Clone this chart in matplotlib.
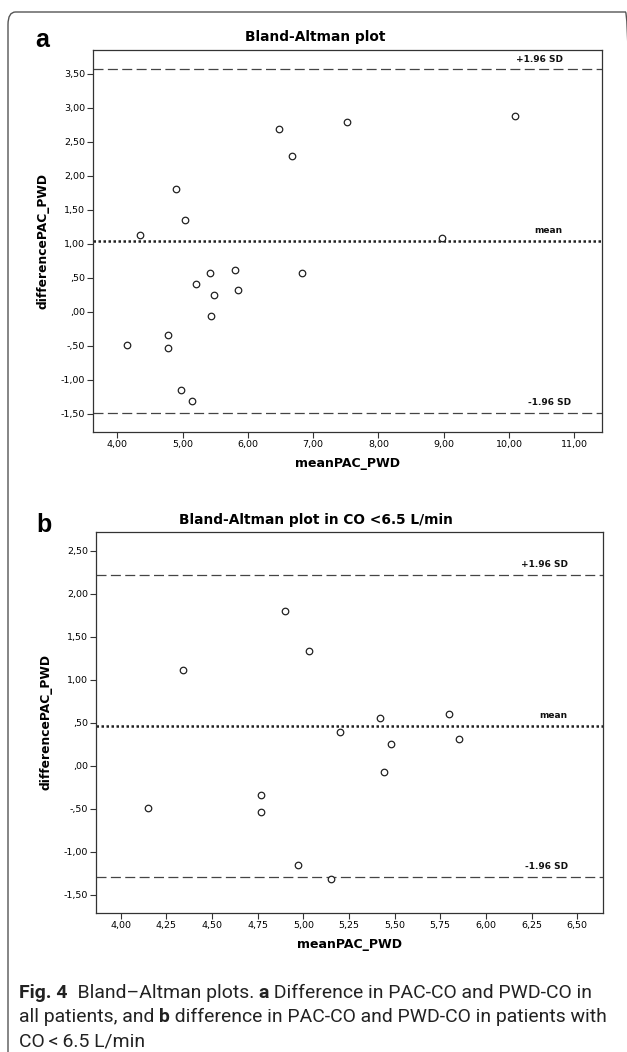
import matplotlib
matplotlib.use("Agg")
import matplotlib.pyplot as plt
from matplotlib.ticker import FuncFormatter, MultipleLocator
from matplotlib.patches import FancyBboxPatch
from matplotlib import font_manager
import numpy as np

# ---------------- data ----------------
mean_pac_pwd = [4.15, 4.34, 4.77, 4.77, 4.90, 4.97, 5.03, 5.15, 5.20, 5.42,
                5.44, 5.48, 5.80, 5.85, 6.47, 6.67, 6.83, 7.52, 8.97, 10.09]
diff_pac_pwd = [-0.49, 1.12, -0.34, -0.54, 1.80, -1.15, 1.34, -1.31, 0.40, 0.56,
                -0.07, 0.25, 0.61, 0.31, 2.69, 2.28, 0.57, 2.79, 1.08, 2.87]
# patient has CO < 6.5 L/min (shown in panel b)
co_below_6_5 = [True] * 14 + [False] * 6
# reference lines: [+1.96 SD, mean, -1.96 SD]
lines_a = [3.56, 1.04, -1.49]
lines_b = [2.22, 0.465, -1.29]
line_labels = ["+1.96 SD", "mean", "-1.96 SD"]

title_a = "Bland-Altman plot"
title_b = "Bland-Altman plot in CO <6.5 L/min"
xlabel = "meanPAC_PWD"
ylabel = "differencePAC_PWD"

W, H = 627, 1052
fig = plt.figure(figsize=(W / 100, H / 100), dpi=100)


def fx(x):
    return x / W


def fy(y):
    return 1 - y / H


def comma_fmt(v, pos=None):
    s = "%.2f" % v
    if s.startswith("0."):
        s = s[1:]
    elif s.startswith("-0."):
        s = "-" + s[2:]
    return s.replace(".", ",")


CHART_FONT = "DejaVu Sans"
EDGE = "#333333"


def make_axes(l, r, t, b):
    ax = fig.add_axes([fx(l), fy(b), fx(r) - fx(l), (b - t) / H])
    for s in ax.spines.values():
        s.set_color(EDGE)
        s.set_linewidth(0.9)
    ax.tick_params(axis="both", direction="out", length=4, width=0.8,
                   color=EDGE, labelsize=6.8, pad=1.5, top=False, right=False)
    ax.xaxis.set_major_formatter(FuncFormatter(comma_fmt))
    ax.yaxis.set_major_formatter(FuncFormatter(comma_fmt))
    for lab in ax.get_xticklabels() + ax.get_yticklabels():
        lab.set_family(CHART_FONT)
    return ax


def draw_panel(ax, xs, ys, lines, lab_x, xlim, ylim, xstep, ystep):
    ax.scatter(xs, ys, s=22, facecolors="white", edgecolors="#222222",
               linewidths=0.9, zorder=3)
    styles = [(0, (8, 3.5)), (0, (1, 1)), (0, (8, 3.5))]
    widths = [0.9, 1.8, 0.9]
    for val, ls, lw, lab, lx in zip(lines, styles, widths, line_labels, lab_x):
        ax.axhline(val, color="#222222" if lw > 1 else "#444444",
                   linestyle=ls, linewidth=lw, zorder=2)
        ax.annotate(lab, xy=(lx, val), xycoords=("axes fraction", "data"),
                    xytext=(0, 7.3), textcoords="offset points",
                    ha="right", va="center", fontsize=6.5,
                    fontweight="bold", family=CHART_FONT, color="#111111")
    ax.set_xlim(*xlim)
    ax.set_ylim(*ylim)
    ax.xaxis.set_major_locator(MultipleLocator(xstep))
    ax.yaxis.set_major_locator(MultipleLocator(ystep))
    ax.set_xlabel(xlabel, fontsize=9, fontweight="bold", family=CHART_FONT,
                  labelpad=6)
    ax.set_ylabel(ylabel, fontsize=8.8, fontweight="bold", family=CHART_FONT,
                  labelpad=8)


# ---- panel a
ax_a = make_axes(92.7, 601.7, 50, 432.3)
draw_panel(ax_a, mean_pac_pwd, diff_pac_pwd, lines_a, [0.924, 0.922, 0.94],
           (3.623, 11.42), (-1.776, 3.846), 1.0, 0.5)

# ---- panel b (patients with CO < 6.5 L/min)
xs_b = [m for m, k in zip(mean_pac_pwd, co_below_6_5) if k]
ys_b = [d for d, k in zip(diff_pac_pwd, co_below_6_5) if k]
ax_b = make_axes(95.7, 603.3, 531.7, 913.3)
draw_panel(ax_b, xs_b, ys_b, lines_b, [0.93, 0.929, 0.93],
           (3.863, 6.643), (-1.713, 2.724), 0.25, 0.5)

# titles & panel letters
fig.text(fx(315), fy(37.5), title_a, ha="center", va="center", fontsize=9.9,
         fontweight="bold", family=CHART_FONT)
fig.text(fx(316), fy(520), title_b, ha="center", va="center", fontsize=9.9,
         fontweight="bold", family=CHART_FONT)
LETTER_FONT = "Liberation Sans"
fig.text(fx(35), fy(47), "a", ha="left", va="baseline", fontsize=18,
         fontweight="bold", family=LETTER_FONT)
fig.text(fx(36), fy(532), "b", ha="left", va="baseline", fontsize=18,
         fontweight="bold", family=LETTER_FONT)

# border (rounded, open at right/bottom by clipping)
box = FancyBboxPatch((fx(8), fy(1075)), fx(633) - fx(8), (1075 - 12) / H,
                     boxstyle="round,pad=0,rounding_size=0.012",
                     transform=fig.transFigure, fill=False,
                     edgecolor="#555555", linewidth=1.0)
fig.patches.append(box)

# caption
names = {f.name for f in font_manager.fontManager.ttflist}
CAP_FONT = "Liberation Sans Narrow" if "Liberation Sans Narrow" in names else "Roboto"
caption_lines = [
    [("Fig. 4", "bold"), ("  Bland\u2013Altman plots. ", "normal"), ("a", "bold"),
     (" Difference in PAC-CO and PWD-CO in", "normal")],
    [("all patients, and ", "normal"), ("b", "bold"),
     (" difference in PAC-CO and PWD-CO in patients with", "normal")],
    [("CO\u2009<\u20096.5 L/min", "normal")],
]
caption_y = [998, 1022, 1046]
renderer = fig.canvas.get_renderer()


def line_width(parts, size):
    total = 0
    for txt, wt in parts:
        t = fig.text(0, 0, txt, fontsize=size, fontweight=wt, family=CAP_FONT)
        total += t.get_window_extent(renderer).width
        t.remove()
    return total


target = 587.0
size = 12.0
w = line_width(caption_lines[1], size)
size = size * target / w

for parts, yb in zip(caption_lines, caption_y):
    x = 19.0
    for txt, wt in parts:
        t = fig.text(fx(x), fy(yb), txt, fontsize=size, fontweight=wt,
                     family=CAP_FONT, va="baseline", ha="left", color="#222222")
        x += t.get_window_extent(renderer).width

fig.savefig("out.png", dpi=100)
